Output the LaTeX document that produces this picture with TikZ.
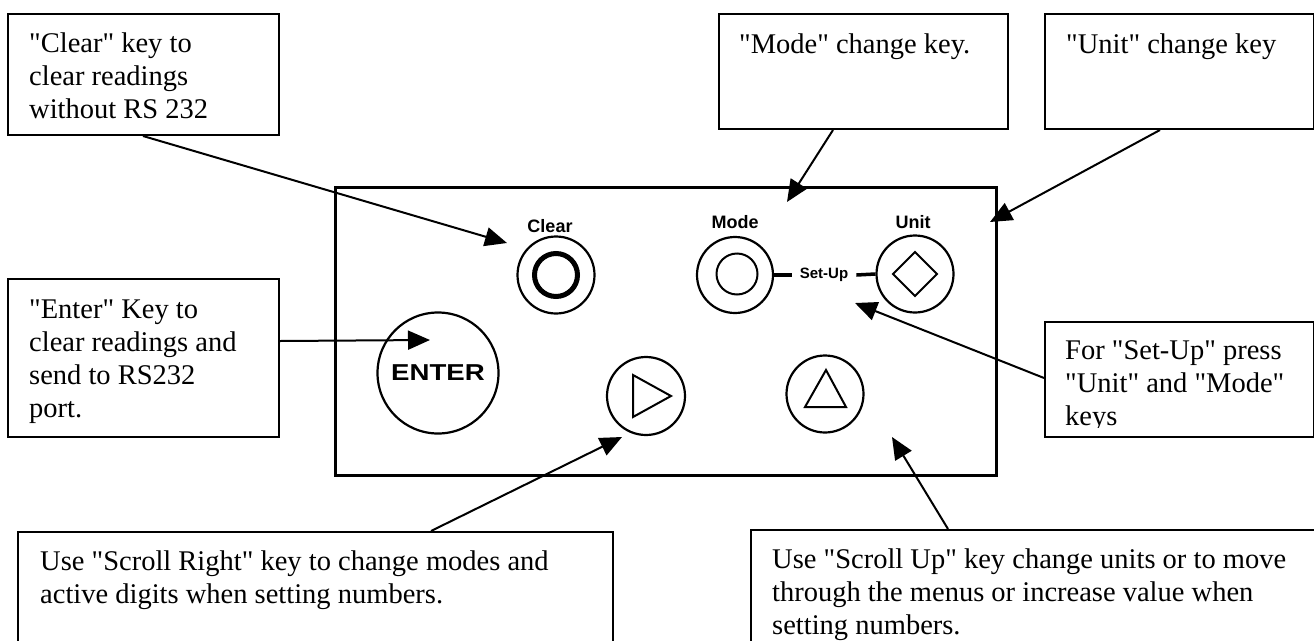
\documentclass[tikz,border=0pt]{standalone}
\usepackage{fontspec}
\setmainfont{Liberation Serif}[Ligatures=TeXOff]
\setsansfont{Liberation Sans}[Ligatures=TeXOff]
\usetikzlibrary{arrows.meta}
\newcommand\boxlines[1]{\vtop{\fontsize{28.5}{33}\selectfont #1}}
\begin{document}
\begin{tikzpicture}[x=1pt,y=-1pt,
  box/.style={draw, line width=2pt, inner sep=0pt, anchor=north west},
  txt/.style={font=\fontsize{28.5}{33}\selectfont, inner sep=0pt, anchor=base west},
  conn/.style={line width=2pt, -{Triangle[length=22pt,width=19pt]}},
  btn/.style={draw, circle, line width=2.2pt, inner sep=0pt},
  lbl/.style={font=\sffamily\bfseries\fontsize{18}{18}\selectfont, inner sep=0pt}]
\useasboundingbox (0,0) rectangle (1314,640);

% callout boxes
\node[box, minimum width=271pt, minimum height=121pt] (clearbox) at (7,13) {};
\node[txt] (cleartxt) at (29,52) {\boxlines{\hbox{"Clear" key to}\hbox{clear readings}\hbox{without RS 232}}};
\node[box, minimum width=289pt, minimum height=115pt] (modebox) at (718,13) {};
\node[txt] (modetxt) at (739,53) {"Mode" change key.};
\node[box, minimum width=269pt, minimum height=115pt] (unitbox) at (1044,13) {};
\node[txt] (unittxt) at (1066,53) {"Unit" change key};
\node[box, minimum width=271pt, minimum height=158pt] (enterbox) at (7,278) {};
\node[txt] (entertxt) at (29,318) {\boxlines{\hbox{"Enter" Key to}\hbox{clear readings and}\hbox{send to RS232}\hbox{port.}}};
\node[box, minimum width=269pt, minimum height=115pt] (setupbox) at (1044,321) {};
\begin{scope}
  \clip (1046,323) rectangle (1311,427);
  \node[txt] (setuptxt) at (1065,359) {\boxlines{\hbox{For "Set-Up" press}\hbox{"Unit" and "Mode"}\hbox{keys}}};
\end{scope}
\node[box, minimum width=595pt, minimum height=140pt] (rightbox) at (17,531) {};
\node[txt] (righttxt) at (40,570) {\boxlines{\hbox{Use "Scroll Right" key to change modes and}\hbox{active digits when setting numbers.}}};
\node[box, minimum width=575pt, minimum height=140pt] (upbox) at (750,529) {};
\node[txt] (uptxt) at (772,568) {\boxlines{\hbox{Use "Scroll Up" key change units or to move}\hbox{through the menus or increase value when}\hbox{setting numbers.}}};

% keypad panel
\node[draw, line width=2.5pt, inner sep=0pt, anchor=north west, minimum width=661pt, minimum height=288pt] (panel) at (334,186) {};

% buttons
\node[btn, minimum size=77pt] (clearbtn) at (556,275) {};
\node[draw, circle, line width=5pt, minimum size=43pt, inner sep=0pt] (clearring) at (556,275) {};
\node[lbl] (clearlbl) at (550,226) {Clear};

\node[btn, minimum size=76pt] (modebtn) at (735,275) {};
\node[draw, circle, line width=2pt, minimum size=41pt, inner sep=0pt] (modering) at (737,274) {};
\node[lbl] (modelbl) at (735,222) {Mode};

\node[btn, minimum size=77pt] (unitbtn) at (915,274) {};
\draw[line width=2pt] (893,274) -- (915,252) -- (937,274) -- (915,296) -- cycle;
\node[lbl] (unitlbl) at (913,222) {Unit};

\node[font=\sffamily\bfseries\fontsize{15}{15}\selectfont, inner xsep=8pt, inner ysep=0pt] (setuplbl) at (824,275) {Set-Up};
\draw[line width=3.5pt] (modebtn.east) -- (setuplbl.west);
\draw[line width=3.5pt] (setuplbl.east) -- (unitbtn.west);

\node[btn, minimum size=121pt] (enterbtn) at (438,373) {\scalebox{1.2}[1]{\sffamily\bfseries\fontsize{23}{23}\selectfont ENTER}};

\node[btn, minimum size=78pt] (rightbtn) at (646,396) {};
\draw[line width=2pt] (633,375) -- (671,396) -- (633,417) -- cycle;

\node[btn, minimum size=77pt] (upbtn) at (825,394) {};
\draw[line width=2pt] (805,407) -- (826,370) -- (846,407) -- cycle;

% arrow targets
\coordinate (cleartip) at (507,243);
\coordinate (modetip) at (787,202);
\coordinate (unittip) at (990,222);
\coordinate (entertip) at (430,340);
\coordinate (setuptip) at (855,303);
\coordinate (righttip) at (622,437);
\coordinate (uptip) at (892,437);

% connectors
\draw[conn] ([xshift=136pt]clearbox.south west) -- (cleartip);
\draw[conn] ([xshift=115pt]modebox.south west) -- (modetip);
\draw[conn] ([xshift=116pt]unitbox.south west) -- (unittip);
\draw[conn] ([yshift=17pt]enterbox.east) -- (entertip);
\draw[conn] ([yshift=-57pt]setupbox.north west) -- (setuptip);
\draw[conn] ([xshift=414pt]rightbox.north west) -- (righttip);
\draw[conn] ([xshift=198pt]upbox.north west) -- (uptip);
\end{tikzpicture}
\end{document}
